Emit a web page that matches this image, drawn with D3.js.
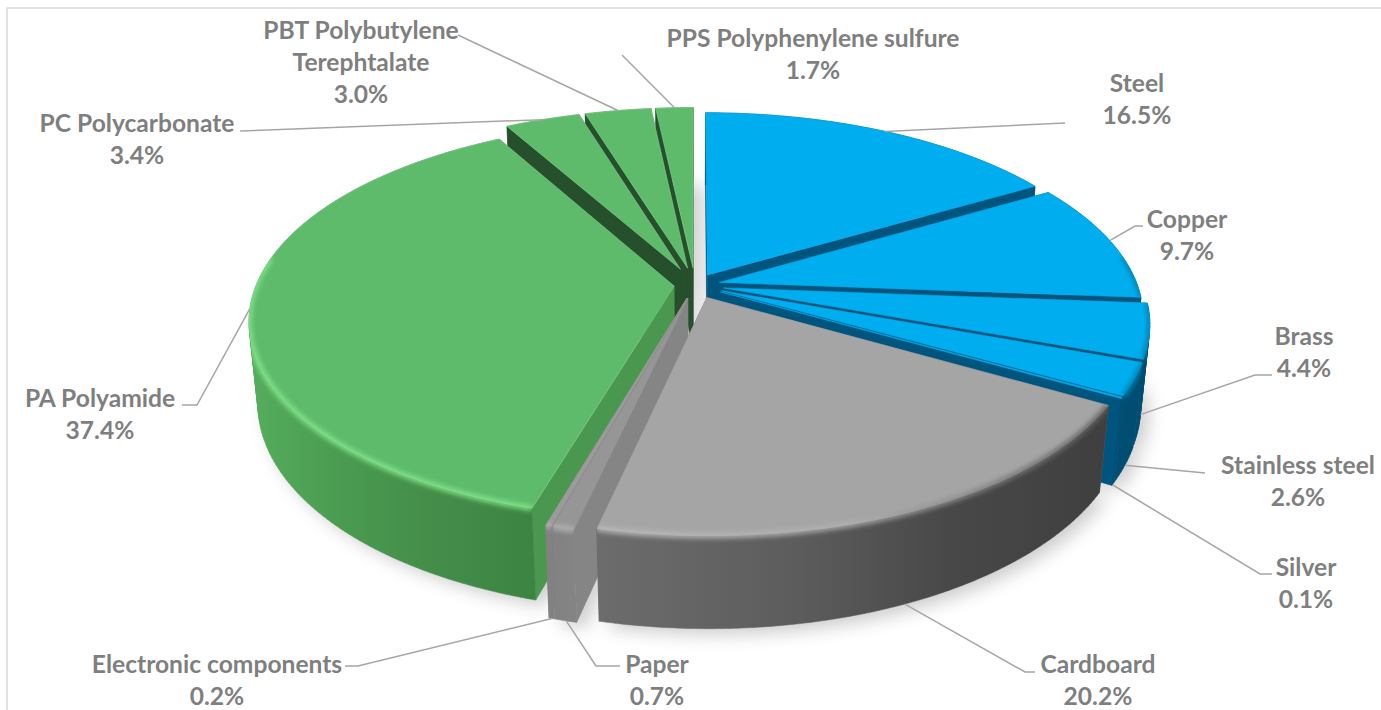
<!DOCTYPE html>
<html>
<head>
<meta charset="utf-8">
<script src="https://cdnjs.cloudflare.com/ajax/libs/d3/7.8.5/d3.min.js"></script>
<style>
  html, body { margin: 0; padding: 0; background: #fff; overflow: hidden; }
  text { font-family: Lato, "Open Sans", sans-serif; font-weight: 700; font-size: 24.6px; fill: #7f7f7f; text-anchor: middle; }
</style>
</head>
<body>
<svg id="chart" width="1381" height="710"></svg>
<script>
// data
const categories = ["Steel", "Copper", "Brass", "Stainless steel", "Silver", "Cardboard", "Paper",
    "Electronic components", "PA Polyamide", "PC Polycarbonate", "PBT Polybutylene Terephtalate", "PPS Polyphenylene sulfure"];
const values = [16.5, 9.7, 4.4, 2.6, 0.1, 20.2, 0.7, 0.2, 37.4, 3.4, 3.0, 1.7];
const percentLabels = ["16.5%", "9.7%", "4.4%", "2.6%", "0.1%", "20.2%", "0.7%", "0.2%", "37.4%", "3.4%", "3.0%", "1.7%"];

// layout, one entry per slice
const explode = [0.06, 0.06, 0.07, 0.07, 0.07, 0.07, 0.07, 0.07, 0.05, 0.09, 0.09, 0.09];
const topColors = ["#00aeef", "#00aeef", "#00aeef", "#00aeef", "#00aeef", "#a5a5a5", "#969696", "#9b9b9b", "#5dbb6b", "#5dbb6b", "#5dbb6b", "#5dbb6b"];
const startWallColors = ["#00557f", "#00557f", "#00557f", "#00557f", "#00557f", "#6a6a6a", "#858585", "#7a7a7a", "#4a984f", "#264f2b", "#264f2b", "#264f2b"];
const endWallColors = ["#00557f", "#00557f", "#00557f", "#00557f", "#00557f", "#6a6a6a", "#858585", "#7a7a7a", "#264f2b", "#264f2b", "#264f2b", "#264f2b"];
const rimGroups = ["blue", "blue", "blue", "blue", "blue", "grey", "paper", "paper", "green", "green", "green", "green"];
// painter's order, back to front
const drawOrder = [11, 10, 9, 0, 1, 8, 2, 3, 4, 7, 6, 5];

const labelLines = [["Steel"], ["Copper"], ["Brass"], ["Stainless steel"], ["Silver"], ["Cardboard"], ["Paper"],
    ["Electronic components"], ["PA Polyamide"], ["PC Polycarbonate"], ["PBT Polybutylene", "Terephtalate"], ["PPS Polyphenylene sulfure"]];
const labelX = [1137, 1187, 1304, 1298, 1306, 1098, 657, 217, 100, 137, 361, 813];
const labelTop = [83, 219, 336, 465, 567, 664, 664, 664, 398, 123, 30, 38];
const leaderDepth = [0, 0, 1, 1, 1, 1, 1, 1, 0, 0, 0, 0];
const leaderPaths = [
    [[1065, 123]],
    [[1135, 226], [1143, 226]],
    [[1255, 375], [1272, 375]],
    [[1205, 473]],
    [[1260, 574], [1272, 574]],
    [[1025, 672], [1035, 672]],
    [[596, 666], [620, 666]],
    [[358, 666], [345, 666]],
    [[197, 405], [182, 405]],
    [[240, 131]],
    [[458, 35]],
    [[622, 55]]
];

// projection of the tilted disc
const cx = 695, cy = 285;
const A = 418, B = 193, H = 83, p = 0.17, q = 0.02;

function project(X, Y, d) {
    let w = 1 - p * Y + q * d;
    return [cx + A * X / w, cy + (B * Y + H * d) / w];
}

function slicePoint(s, angle, r, d) {
    let X = s.explode * Math.sin(s.mid) + r * Math.sin(angle);
    let Y = -(s.explode * Math.cos(s.mid) + r * Math.cos(angle));
    return project(X, Y, d);
}

function rimPoints(s, d) {
    let n = Math.max(2, Math.ceil((s.endAngle - s.startAngle) * 60));
    return d3.range(n + 1).map(i => slicePoint(s, s.startAngle + (s.endAngle - s.startAngle) * i / n, 1, d));
}

const line = d3.line();
const closed = pts => line(pts) + "Z";

const svg = d3.select("#chart");
const defs = svg.append("defs");
defs.append("filter").attr("id", "shadowBlur").attr("x", "-20%").attr("y", "-20%").attr("width", "140%").attr("height", "140%")
    .append("feGaussianBlur").attr("stdDeviation", 9);
defs.append("filter").attr("id", "rimBlur").attr("filterUnits", "userSpaceOnUse")
    .attr("x", 0).attr("y", 0).attr("width", 1381).attr("height", 710)
    .append("feGaussianBlur").attr("stdDeviation", 2.5);

function gradient(id, stops) {
    let g = defs.append("linearGradient").attr("id", id).attr("gradientUnits", "userSpaceOnUse")
        .attr("x1", 240).attr("x2", 1150).attr("y1", 0).attr("y2", 0);
    stops.forEach(s => g.append("stop").attr("offset", (s[0] - 240) / 910).attr("stop-color", s[1]));
    return "url(#" + id + ")";
}

// outer wall and rim shading, x position -> colour
const wallFill = {
    blue: gradient("wallBlue", [[1000, "#00557f"], [1150, "#004c70"]]),
    grey: gradient("wallGrey", [[600, "#6c6c6c"], [800, "#5c5c5c"], [950, "#484848"], [1110, "#3f3f3f"]]),
    paper: gradient("wallPaper", [[540, "#808080"], [580, "#858585"]]),
    green: gradient("wallGreen", [[245, "#56ae5d"], [330, "#4b9d52"], [440, "#438c49"], [535, "#3c8442"]])
};
const rimFill = {
    blue: gradient("rimBlue", [[1000, "#0093c9"], [1150, "#007fb0"]]),
    grey: gradient("rimGrey", [[600, "#bdbdbd"], [850, "#b0b0b0"], [1000, "#7a7a7a"], [1115, "#5a5a5a"]]),
    paper: gradient("rimPaper", [[540, "#b5b5b5"], [580, "#b5b5b5"]]),
    green: gradient("rimGreen", [[245, "#84e68a"], [530, "#84e68a"]])
};

// frame, open on the right and at the bottom like the crop it comes from
svg.append("rect")
    .attr("x", 7).attr("y", 8).attr("width", 1400).attr("height", 720)
    .style("fill", "#fff").style("stroke", "#d9d9d9").style("stroke-width", 1.5);

// slices from d3.pie
const rows = categories.map((c, i) => ({ name: c, value: values[i], index: i }));
const slices = d3.pie().sort(null).value(d => d.value)(rows).map(s => {
    let i = s.data.index;
    return {
        startAngle: s.startAngle,
        endAngle: s.endAngle,
        mid: (s.startAngle + s.endAngle) / 2,
        explode: explode[i],
        index: i
    };
});

// soft shadow under the pie
const shadow = svg.append("g").attr("filter", "url(#shadowBlur)").style("opacity", 0.2);
slices.forEach(s => {
    shadow.append("path")
        .attr("d", closed([slicePoint(s, 0, 0, 1.02)].concat(rimPoints(s, 1.02))))
        .attr("transform", "translate(8,4)")
        .style("fill", "#000");
});

// one path of quads, all wound the same way so no overlap cancels out
function wallPath(top, bottom) {
    return d3.range(top.length - 1).map(k => {
        let quad = [top[k], top[k + 1], bottom[k + 1], bottom[k]];
        return closed(d3.polygonArea(quad) < 0 ? quad.reverse() : quad);
    }).join("");
}

drawOrder.forEach(i => {
    let s = slices[i];
    let g = svg.append("g").attr("class", "slice");
    let group = rimGroups[i];
    let top = rimPoints(s, 0);
    let bottom = rimPoints(s, 1);
    let apexTop = slicePoint(s, 0, 0, 0);
    let apexBottom = slicePoint(s, 0, 0, 1);
    let topPath = closed([apexTop].concat(top));
    let outerPath = wallPath(top, bottom);

    function addOuterWall() {
        g.append("path")
            .attr("d", outerPath)
            .style("fill", wallFill[group])
            .style("stroke", wallFill[group]).style("stroke-width", 0.5);
    }
    function addCutWalls() {
        [[top.length - 1, endWallColors[i]], [0, startWallColors[i]]].forEach(c => {
            g.append("path")
                .attr("d", closed([apexTop, top[c[0]], bottom[c[0]], apexBottom]))
                .style("fill", c[1])
                .style("stroke", c[1]).style("stroke-width", 0.5);
        });
    }

    // a slice at the back has its outer wall behind its cut walls
    if (Math.cos(s.mid) > 0) {
        addOuterWall();
        addCutWalls();
    } else {
        addCutWalls();
        addOuterWall();
    }

    // top face
    g.append("path")
        .attr("d", topPath)
        .style("fill", topColors[i])
        .style("stroke", group === "green" ? "#86d292" : topColors[i])
        .style("stroke-width", 0.6);

    // bevel along the part of the rim that faces the viewer, kept on the slice
    let n = top.length - 1;
    let front = d3.range(n + 1)
        .filter(k => Math.cos(s.startAngle + (s.endAngle - s.startAngle) * k / n) < 0.15)
        .map(k => top[k]);
    if (front.length > 1) {
        let clip = defs.append("clipPath").attr("id", "clip" + i);
        clip.append("path").attr("d", topPath);
        clip.append("path").attr("d", outerPath);
        g.append("g").attr("clip-path", "url(#clip" + i + ")")
            .append("path")
            .attr("d", line(front))
            .attr("filter", "url(#rimBlur)")
            .style("fill", "none")
            .style("stroke", rimFill[group])
            .style("stroke-width", 5);
    }
});

// leader lines, starting on the rim at the slice's middle angle
const leaders = svg.append("g");
slices.forEach(s => {
    let i = s.index;
    let start = slicePoint(s, s.mid, 1, leaderDepth[i]);
    leaders.append("path")
        .attr("d", line([start].concat(leaderPaths[i])))
        .style("fill", "none")
        .style("stroke", "#a6a6a6")
        .style("stroke-width", 1.5);
});

// labels
const labels = svg.append("g");
categories.forEach((c, i) => {
    let t = labels.append("text").attr("x", labelX[i]).attr("y", labelTop[i]).attr("dy", "0.35em");
    labelLines[i].concat([percentLabels[i]]).forEach((txt, k) => {
        t.append("tspan")
            .attr("x", labelX[i])
            .attr("dy", k === 0 ? "0.35em" : 32)
            .text(txt);
    });
});
</script>
</body>
</html>
